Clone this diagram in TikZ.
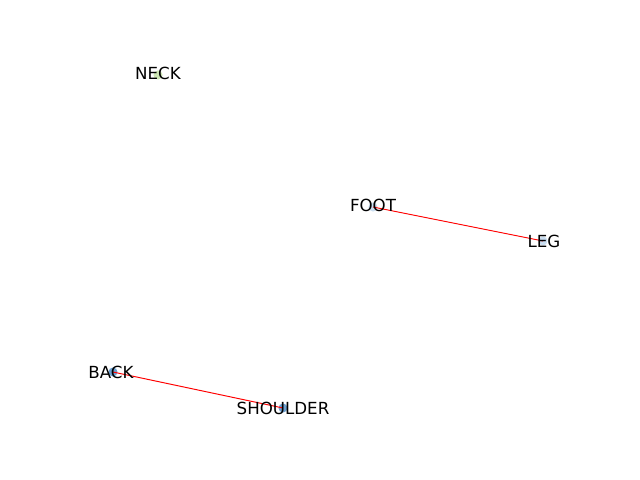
\documentclass[tikz,border=0pt]{standalone}
\usepackage{fontspec}
\setmainfont{DejaVu Sans}
\definecolor{ngreen}{HTML}{CDE6B4}
\definecolor{lblue}{HTML}{C9DDF0}
\definecolor{mblue}{HTML}{6C9FCF}
\definecolor{edgered}{HTML}{FF0000}
\begin{document}
\begin{tikzpicture}[x=0.72pt,y=-0.72pt,
  dot/.style={circle,inner sep=0pt,minimum size=6.5pt,draw=none},
  lbl/.style={font=\fontsize{12pt}{14pt}\selectfont,inner sep=0pt,text=black},
  edge/.style={draw=edgered,line width=0.7pt}]
\useasboundingbox[fill=white] (0,0) rectangle (640,480);
\node[dot,fill=ngreen] (neck) at (158,75) {};
\node[dot,fill=lblue] (foot) at (373,207) {};
\node[dot,fill=lblue] (leg) at (543,241) {};
\node[dot,fill=mblue] (back) at (113,372) {};
\node[dot,fill=mblue] (shoulder) at (283,408) {};
\draw[edge] (foot.center) -- (leg.center);
\draw[edge] (back.center) -- (shoulder.center);
\node[lbl] (tneck) at (158,73) {NECK};
\node[lbl] (tfoot) at (373,205) {FOOT};
\node[lbl] (tleg) at (544,241) {LEG};
\node[lbl] (tback) at (111,372) {BACK};
\node[lbl] (tshoulder) at (283,408) {SHOULDER};
\end{tikzpicture}
\end{document}
